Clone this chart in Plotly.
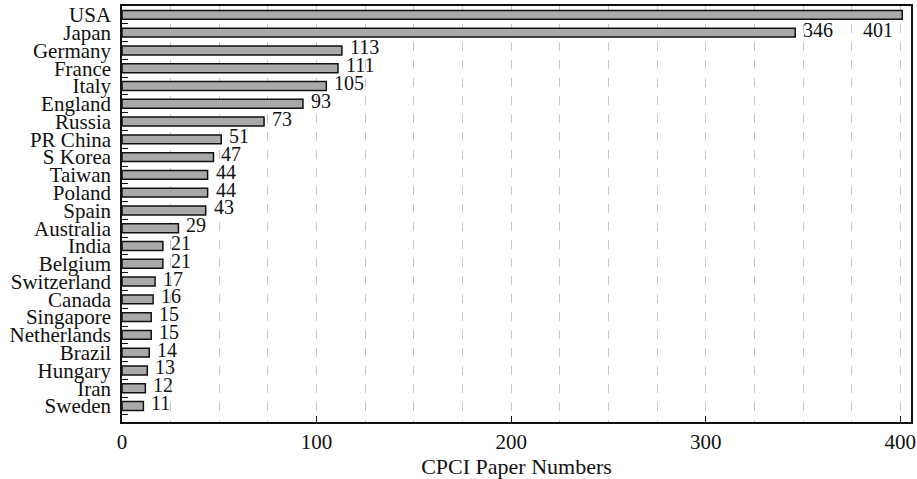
import plotly.graph_objects as go

countries = ["USA", "Japan", "Germany", "France", "Italy", "England", "Russia", "PR China",
             "S Korea", "Taiwan", "Poland", "Spain", "Australia", "India", "Belgium",
             "Switzerland", "Canada", "Singapore", "Netherlands", "Brazil", "Hungary", "Iran", "Sweden"]
papers = [401, 346, 113, 111, 105, 93, 73, 51, 47, 44, 44, 43, 29, 21, 21, 17, 16, 15, 15, 14, 13, 12, 11]
x_ticks = [0, 100, 200, 300, 400]

FONT = "Liberation Serif, Times New Roman, serif"

fig = go.Figure()
fig.add_trace(go.Bar(
    y=countries, x=papers, orientation="h",
    marker=dict(color="#a9a9a9", line=dict(color="#111111", width=1.5)),
    hoverinfo="x+y",
))

annotations = []
for i, (c, v) in enumerate(zip(countries, papers)):
    if i == 0:
        # the top value is printed on the next row, right-aligned at the bar end
        annotations.append(dict(x=v, y=countries[1], text=str(v), showarrow=False,
                                xanchor="right", xshift=-7, yshift=3,
                                font=dict(family=FONT, size=20, color="#111")))
    else:
        annotations.append(dict(x=v, y=c, text=str(v), showarrow=False,
                                xanchor="left", xshift=6, yshift=3,
                                font=dict(family=FONT, size=20, color="#111")))

fig.update_layout(
    width=917, height=479,
    margin=dict(l=122, r=6, t=6, b=57),
    plot_bgcolor="white", paper_bgcolor="white",
    bargap=0.5,
    showlegend=False,
    font=dict(family=FONT, size=20, color="#111"),
    annotations=annotations,
    xaxis=dict(
        range=[0, 405.5], tickvals=x_ticks, ticks="inside", ticklen=6, tickcolor="#111",
        showgrid=False, zeroline=False, automargin=False,
        showline=True, linecolor="#111", linewidth=1.5, mirror=True,
        tickfont=dict(family=FONT, size=21),
        ticklabelstandoff=0,
        title=dict(text="CPCI Paper Numbers", font=dict(family=FONT, size=22), standoff=4),
        minor=dict(dtick=25, tick0=0, showgrid=True, gridcolor="#c8c8c8", griddash="dash", gridwidth=1),
    ),
    yaxis=dict(
        autorange="reversed", tickmode="array", tickvals=countries,
        categoryorder="array", categoryarray=countries,
        ticks="inside", tickson="boundaries", ticklen=6, tickcolor="#111",
        showline=True, linecolor="#111", linewidth=1.5, mirror=True,
        showgrid=False, automargin=False,
        tickfont=dict(family=FONT, size=21),
        ticklabelstandoff=5,
    ),
)

fig.write_html("out.html", config={"displayModeBar": False},
               post_script="document.body.style.margin='0';document.body.style.overflow='hidden';")
